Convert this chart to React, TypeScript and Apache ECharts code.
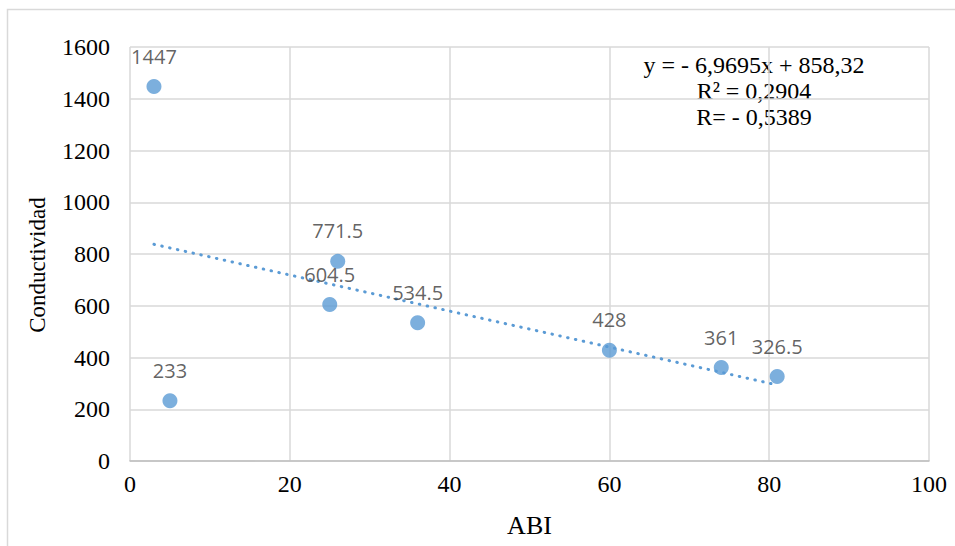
import React, { useEffect, useRef } from "react";
import * as echarts from "echarts";

const abi = [3, 5, 25, 26, 36, 60, 74, 81];
const conductividad = [1447, 233, 604.5, 771.5, 534.5, 428, 361, 326.5];
const slope = -6.9695;
const intercept = 858.32;
const equationLines = ["y = - 6,9695x + 858,32", "R² = 0,2904", "R= - 0,5389"];
const xTitle = "ABI";
const yTitle = "Conductividad";

export default function App() {
  const ref = useRef<HTMLDivElement>(null);
  useEffect(() => {
    if (!ref.current) return;
    const chart = echarts.init(ref.current, undefined, { renderer: "svg" });
    const xMin = Math.min(...abi);
    const xMax = Math.max(...abi);
    const trend = [
      [xMin, slope * xMin + intercept],
      [xMax, slope * xMax + intercept],
    ];
    const serif = "Liberation Serif";
    chart.setOption({
      animation: false,
      backgroundColor: "#ffffff",
      grid: { left: 130, right: 26, top: 47, bottom: 85 },
      xAxis: {
        type: "value",
        min: 0,
        max: 100,
        interval: 20,
        axisLine: { show: true, lineStyle: { color: "#bfbfbf", width: 1.5 } },
        axisTick: { show: false },
        axisLabel: {
          show: true,
          color: "#000",
          fontFamily: serif,
          fontSize: 24,
          margin: 11,
          formatter: function (v: number) {
            return String(v);
          },
        },
        splitLine: { show: true, lineStyle: { color: "#d9d9d9", width: 1.5 } },
        name: xTitle,
        nameLocation: "middle",
        nameGap: 51,
        nameTextStyle: { color: "#000", fontFamily: serif, fontSize: 26 },
      },
      yAxis: {
        type: "value",
        min: 0,
        max: 1600,
        interval: 200,
        axisLine: { show: false },
        axisTick: { show: false },
        axisLabel: {
          show: true,
          color: "#000",
          fontFamily: serif,
          fontSize: 24,
          margin: 20,
          formatter: function (v: number) {
            return String(v);
          },
        },
        splitLine: { show: true, lineStyle: { color: "#d9d9d9", width: 1.5 } },
      },
      graphic: [
        {
          type: "rect",
          shape: { x: 7.5, y: 9.5, width: 990, height: 600 },
          style: { fill: "none", stroke: "#d9d9d9", lineWidth: 1.5 },
          silent: true,
        },
        {
          type: "text",
          x: 37,
          y: 265,
          rotation: Math.PI / 2,
          style: {
            text: yTitle,
            fontFamily: serif,
            fontSize: 23,
            fill: "#000",
            textAlign: "center",
            textVerticalAlign: "middle",
          },
        },
        {
          type: "text",
          x: 754,
          y: 52,
          style: {
            text: equationLines.join("\n"),
            fontFamily: serif,
            fontSize: 24,
            lineHeight: 26,
            fill: "#000",
            textAlign: "center",
          },
        },
      ],
      series: [
        {
          type: "line",
          data: trend,
          showSymbol: false,
          symbol: "none",
          lineStyle: { color: "#5b9bd5", width: 3, type: [0.5, 7.5], cap: "round" },
          z: 3,
          silent: true,
        },
        {
          type: "scatter",
          data: abi.map((x, i) => [x, conductividad[i]]),
          symbolSize: 15,
          itemStyle: { color: "#5b9bd5" },
          label: {
            show: true,
            position: "top",
            distance: 13,
            color: "#3a3a3a",
            fontFamily: "Open Sans",
            fontSize: 20,
            formatter: (p: any) => String(p.value[1]),
          },
          z: 4,
        },
      ],
    });
    return () => chart.dispose();
  }, []);
  return (
    <div
      ref={ref}
      style={{ position: "fixed", left: 0, top: 0, width: 955, height: 546 }}
    />
  );
}
